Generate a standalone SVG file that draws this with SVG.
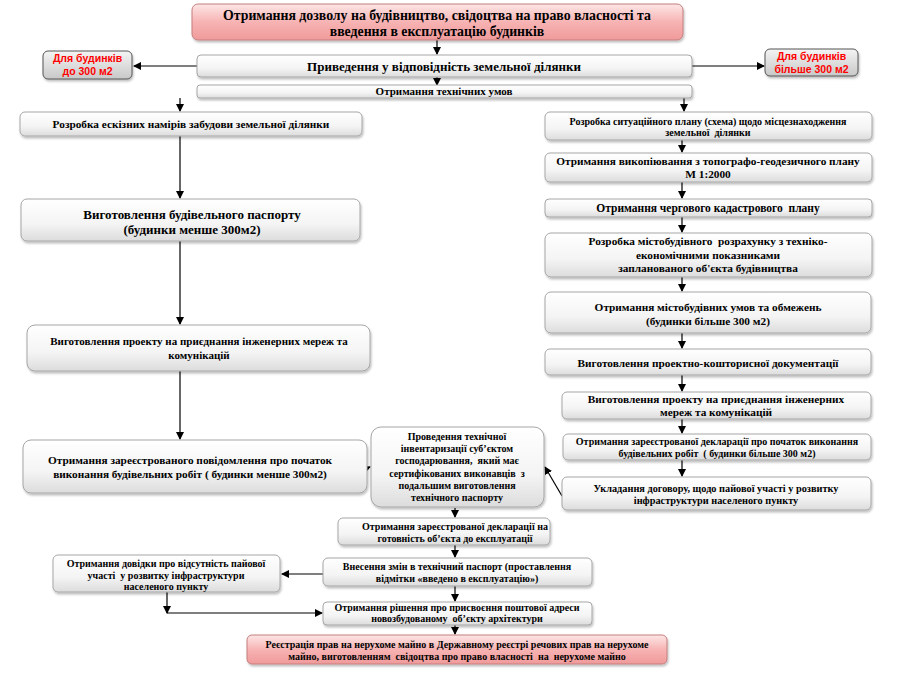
<svg xmlns="http://www.w3.org/2000/svg" width="906" height="678" viewBox="0 0 906 678">
<defs>
<linearGradient id="gGray" x1="0" y1="0" x2="0" y2="1">
<stop offset="0" stop-color="#ffffff"/><stop offset="0.6" stop-color="#f4f4f4"/><stop offset="1" stop-color="#dcdcdc"/>
</linearGradient>
<linearGradient id="gPink" x1="0" y1="0" x2="0" y2="1">
<stop offset="0" stop-color="#fde6e6"/><stop offset="0.5" stop-color="#f7b3b3"/><stop offset="1" stop-color="#f09a9a"/>
</linearGradient>
<linearGradient id="gTag" x1="0" y1="0" x2="0" y2="1">
<stop offset="0" stop-color="#f4f4f4"/><stop offset="1" stop-color="#c8c8c8"/>
</linearGradient>
<filter id="sh" x="-5%" y="-20%" width="110%" height="150%">
<feDropShadow dx="1" dy="2" stdDeviation="1.2" flood-color="#000" flood-opacity="0.25"/>
</filter>
<marker id="ah" markerWidth="8" markerHeight="8" refX="7" refY="4" orient="auto" markerUnits="userSpaceOnUse">
<path d="M0,0 L8,4 L0,8 Z" fill="#000"/>
</marker>
</defs>
<style>
.box{fill:url(#gGray);stroke:#a6a6a6;stroke-width:1;filter:url(#sh)}
.pink{fill:url(#gPink);stroke:#c47f7f;stroke-width:1;filter:url(#sh)}
.tag{fill:url(#gTag);stroke:#555;stroke-width:1;filter:url(#sh)}
text{font-family:"Liberation Serif","Times New Roman",serif;font-weight:bold;fill:#000;text-anchor:middle;white-space:pre}
.t10{font-size:10px}
.t103{font-size:10.3px}
.t11{font-size:11px}
.t113{font-size:11.3px}
.t115{font-size:11.5px}
.t13{font-size:13px}
.t14{font-size:13.8px}
.red{font-family:"Liberation Sans",Arial,sans-serif;font-size:10.5px;fill:#ff0000}
.c{stroke:#000;stroke-width:1.2;fill:none;marker-end:url(#ah)}
</style>

<g id="connectors">
<path class="c" d="M437,40 V54"/>
<path class="c" d="M197,66 H134"/>
<path class="c" d="M692,66 H764"/>
<path class="c" d="M437,77 V85"/>
<path class="c" d="M180,98 V111"/>
<path class="c" d="M684,98 V111"/>
<path class="c" d="M180,136 V198"/>
<path class="c" d="M180,241 V324"/>
<path class="c" d="M180,371 V439"/>
<path class="c" d="M353,474 L370,467"/>
<path class="c" d="M562,496 L545,467"/>
<path class="c" d="M682,140 V152"/>
<path class="c" d="M682,182 V198"/>
<path class="c" d="M682,217 V232"/>
<path class="c" d="M682,277 V291"/>
<path class="c" d="M682,333 V348"/>
<path class="c" d="M682,375 V391"/>
<path class="c" d="M682,418 V433"/>
<path class="c" d="M682,460 V476"/>
<path class="c" d="M455,508 V517"/>
<path class="c" d="M455,545 V557"/>
<path class="c" d="M323,574 H282"/>
<path class="c" d="M167,592 V613"/>
<path class="c" d="M167,613 H322"/>
<path class="c" d="M455,586 V601"/>
<path class="c" d="M455,625 V634"/>
</g>

<g id="title">
<rect class="pink" x="192" y="4" width="491" height="36" rx="6"/>
<text class="t14" x="437" y="20">Отримання дозволу на будівництво, свідоцтва на право власності та</text>
<text class="t14" x="437" y="36">введення в експлуатацію будинків</text>
</g>

<g id="tag-left">
<rect class="tag" x="43" y="51" width="89" height="28" rx="5"/>
<text class="red" x="87.5" y="62">Для будинків</text>
<text class="red" x="87.5" y="75">до 300 м2</text>
</g>

<g id="tag-right">
<rect class="tag" x="765" y="49" width="93" height="27" rx="5"/>
<text class="red" x="811.5" y="60">Для будинків</text>
<text class="red" x="811.5" y="73">більше 300 м2</text>
</g>

<g id="land">
<rect class="box" x="197" y="55" width="495" height="22" rx="4"/>
<text class="t13" x="444" y="71">Приведення у відповідність земельної ділянки</text>
</g>

<g id="tech-cond">
<rect class="box" x="197" y="85" width="495" height="13" rx="3"/>
<text class="t11" x="444" y="95">Отримання технічних умов</text>
</g>

<g id="L1">
<rect class="box" x="20" y="112" width="342" height="24" rx="5"/>
<text class="t113" x="191" y="128">Розробка ескізних намірів забудови земельної ділянки</text>
</g>

<g id="L2">
<rect class="box" x="21" y="199" width="339" height="42" rx="6"/>
<text class="t13" x="192" y="219">Виготовлення будівельного паспорту</text>
<text class="t13" x="192" y="234">(будинки менше 300м2)</text>
</g>

<g id="L3">
<rect class="box" x="27" y="325" width="343" height="46" rx="8"/>
<text class="t11" x="199" y="345">Виготовлення проекту на приєднання інженерних мереж та</text>
<text class="t11" x="199" y="359">комунікацій</text>
</g>

<g id="L4">
<rect class="box" x="23" y="440" width="344" height="53" rx="8"/>
<text class="t113" x="190" y="464">Отримання зареєстрованого повідомлення про початок</text>
<text class="t113" x="190" y="478">виконання будівельних робіт ( будинки менше 300м2)</text>
</g>

<g id="R1">
<rect class="box" x="545" y="112" width="327" height="28" rx="5"/>
<text class="t10" x="708" y="125">Розробка ситуаційного плану (схема) щодо місцезнаходження</text>
<text class="t10" x="708" y="136">земельної  ділянки</text>
</g>

<g id="R2">
<rect class="box" x="545" y="153" width="327" height="29" rx="5"/>
<text class="t113" x="708" y="165">Отримання викопіювання з топографо-геодезичного плану</text>
<text class="t113" x="708" y="178">М 1:2000</text>
</g>

<g id="R3">
<rect class="box" x="545" y="199" width="327" height="18" rx="4"/>
<text class="t115" x="708" y="212">Отримання чергового кадастрового  плану</text>
</g>

<g id="R4">
<rect class="box" x="545" y="233" width="327" height="44" rx="6"/>
<text class="t113" x="708" y="245">Розробка містобудівного  розрахунку з техніко-</text>
<text class="t113" x="708" y="259">економічними показниками</text>
<text class="t113" x="708" y="272">запланованого об'єкта будівництва</text>
</g>

<g id="R5">
<rect class="box" x="545" y="292" width="326" height="41" rx="6"/>
<text class="t113" x="708" y="311">Отримання містобудівних умов та обмежень</text>
<text class="t113" x="708" y="325">(будинки більше 300 м2)</text>
</g>

<g id="R6">
<rect class="box" x="545" y="349" width="326" height="26" rx="5"/>
<text class="t113" x="708" y="367">Виготовлення проектно-кошторисної документації</text>
</g>

<g id="R7">
<rect class="box" x="562" y="392" width="309" height="27" rx="5"/>
<text class="t113" x="716" y="403">Виготовлення проекту на приєднання інженерних</text>
<text class="t113" x="716" y="416">мереж та комунікацій</text>
</g>

<g id="R8">
<rect class="box" x="563" y="434" width="308" height="26" rx="5"/>
<text class="t10" x="717" y="445">Отримання зареєстрованої декларації про початок виконання</text>
<text class="t10" x="717" y="457">будівельних робіт  ( будинки більше 300 м2)</text>
</g>

<g id="R9">
<rect class="box" x="562" y="477" width="309" height="33" rx="5"/>
<text class="t103" x="716" y="492">Укладання договору, щодо пайової участі у розвитку</text>
<text class="t103" x="716" y="504">інфраструктури населеного пункту</text>
</g>

<g id="M1">
<rect class="box" x="371" y="427" width="173" height="80" rx="10"/>
<text class="t10" x="457" y="440">Проведення технічної</text>
<text class="t10" x="457" y="452">інвентаризації суб’єктом</text>
<text class="t10" x="457" y="464">господарювання,  який має</text>
<text class="t10" x="457" y="477">сертифікованих виконавців  з</text>
<text class="t10" x="457" y="489">подальшим виготовлення</text>
<text class="t10" x="457" y="501">технічного паспорту</text>
</g>

<g id="M2">
<rect class="box" x="338" y="518" width="212" height="27" rx="5"/>
<text class="t10" x="455" y="530">Отримання зареєстрованої декларації на</text>
<text class="t10" x="455" y="542">готовність об’єкта до експлуатації</text>
</g>

<g id="M3">
<rect class="box" x="323" y="558" width="269" height="28" rx="5"/>
<text class="t10" x="457" y="570">Внесення змін в технічний паспорт (проставлення</text>
<text class="t10" x="457" y="582">відмітки «введено в експлуатацію»)</text>
</g>

<g id="M-left">
<rect class="box" x="53" y="555" width="227" height="37" rx="5"/>
<text class="t10" x="166" y="567">Отримання довідки про відсутність пайової</text>
<text class="t10" x="166" y="579">участі  у розвитку інфраструктури</text>
<text class="t10" x="166" y="590">населеного пункту</text>
</g>

<g id="M4">
<rect class="box" x="323" y="602" width="269" height="23" rx="4"/>
<text class="t10" x="457" y="611">Отримання рішення про присвоєння поштової адреси</text>
<text class="t10" x="457" y="622">новозбудованому  об’єкту архітектури</text>
</g>

<g id="final">
<rect class="pink" x="247" y="635" width="420" height="29" rx="5"/>
<text class="t10" x="457" y="648">Реєстрація прав на нерухоме майно в Державному реєстрі речових прав на нерухоме</text>
<text class="t10" x="457" y="660">майно, виготовленням  свідоцтва про право власності  на  нерухоме майно</text>
</g>
</svg>
